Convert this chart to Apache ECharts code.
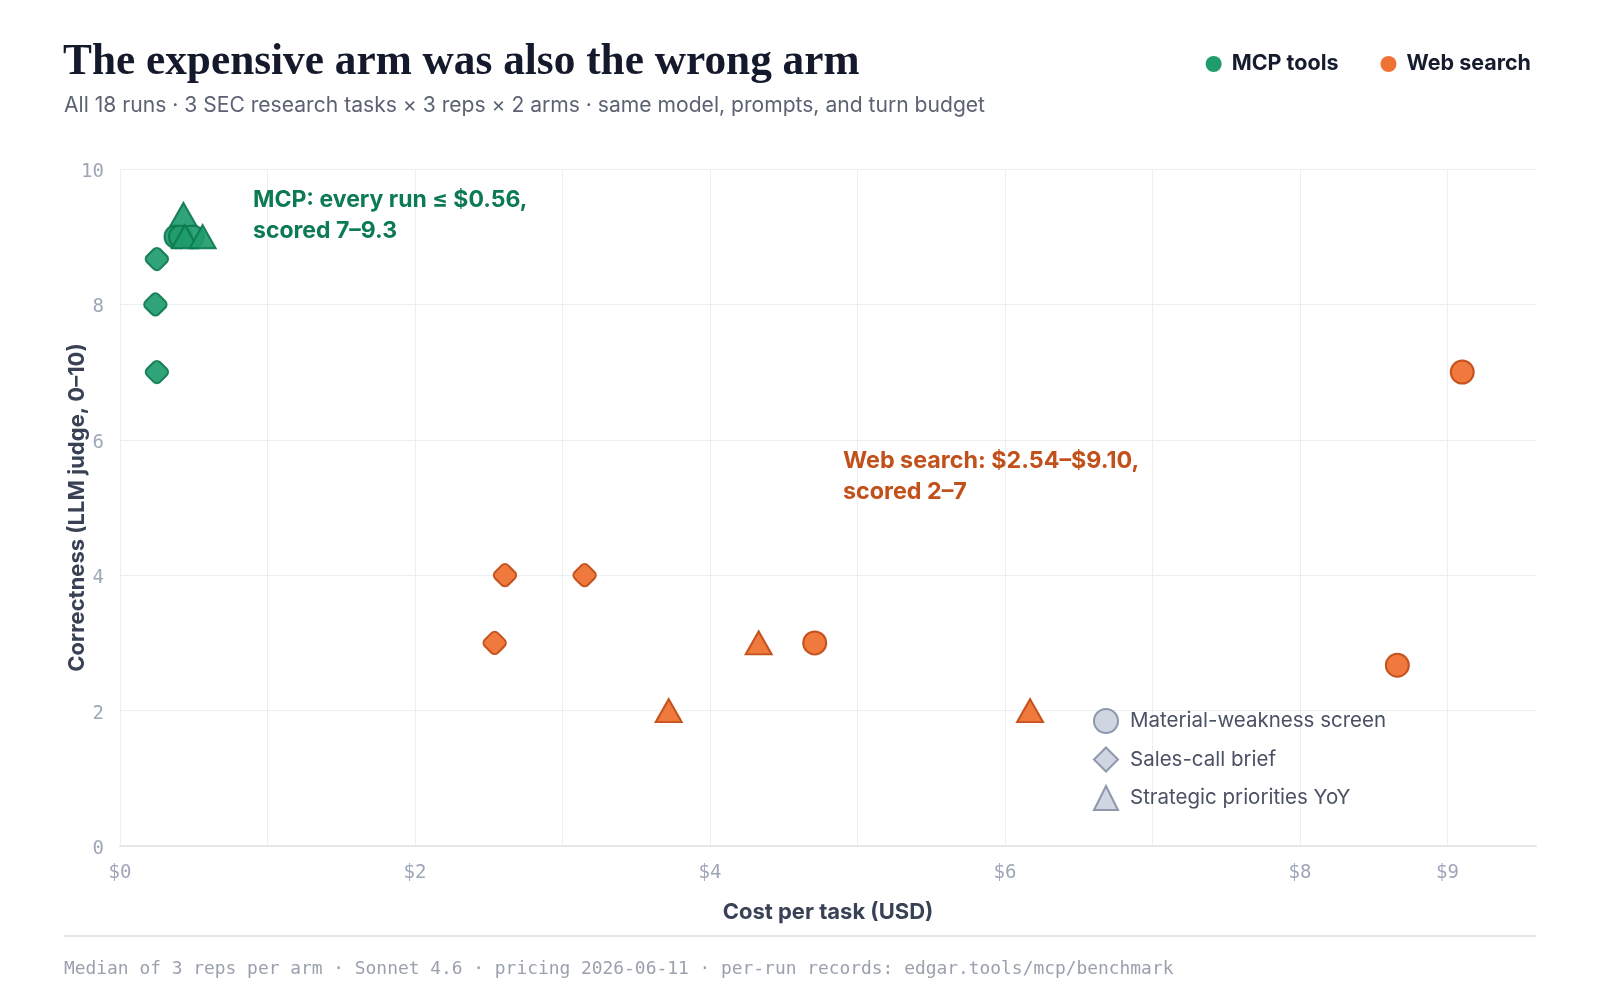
<!DOCTYPE html>
<html>
<head>
<meta charset="utf-8">
<script src="https://cdn.jsdelivr.net/npm/echarts@6/dist/echarts.min.js"></script>
<style>
  html, body { margin: 0; padding: 0; background: #fff; }
  #chart { width: 1600px; height: 1000px; }
</style>
</head>
<body>
<div id="chart"></div>
<script>
// 任务名（形状图例）
const taskNames = ['Material-weakness screen', 'Sales-call brief', 'Strategic priorities YoY']

// MCP tools 每次运行：成本 / 得分 / 任务序号
const mcpCost  = [0.25, 0.24, 0.25, 0.38, 0.41, 0.49, 0.43, 0.44, 0.56]
const mcpScore = [8.67, 8,    7,    9,    9,    9,    9.33, 9,    9]
const mcpTask  = [1,    1,    1,    0,    0,    0,    2,    2,    2]

// Web search 每次运行
const webCost  = [9.10, 8.66, 4.71, 2.61, 3.15, 2.54, 4.33, 3.72, 6.17]
const webScore = [7,    2.67, 3,    4,    4,    3,    3,    2,    2]
const webTask  = [0,    0,    0,    1,    1,    1,    2,    2,    2]

// 坐标轴刻度文字
const xTickValues = [0, 2, 4, 6, 8, 9]
const yTickValues = [0, 2, 4, 6, 8, 10]

const SANS = 'Inter, "Noto Sans", sans-serif'
const MONO = '"DejaVu Sans Mono", "Liberation Mono", monospace'

// 任务 -> 形状
function symbolOf(task){
    switch (task){
        case 0: return {symbol:'circle', symbolSize:23, symbolRotate:0}
        case 1: return {symbol:'roundRect', symbolSize:18.5, symbolRotate:45}
        default: return {symbol:'triangle', symbolSize:[26,23], symbolRotate:0}
    }
}

function buildData(cost, score, task){
    let data = []
    for (let i = 0; i < cost.length; i++){
        data.push(Object.assign({value:[cost[i], score[i]]}, symbolOf(task[i])))
    }
    return data
}

let option = {
    animation: false,
    backgroundColor: '#fff',
    title: [
        {
            text: 'The expensive arm was also the wrong arm',
            left: 63, top: 41, padding: 0,
            textStyle: {fontFamily: '"Liberation Serif", serif', fontWeight: 'bold', fontSize: 43.3, color: '#141a2b'}
        },
        {
            text: 'All 18 runs · 3 SEC research tasks × 3 reps × 2 arms · same model, prompts, and turn budget',
            left: 64, top: 95, padding: 0,
            textStyle: {fontFamily: SANS, fontWeight: 'normal', fontSize: 21.1, color: '#5b6272'}
        }
    ],
    legend: [
        {
            data: ['MCP tools', 'Web search'],
            right: 69, top: 53, padding: 0,
            icon: 'circle',
            itemWidth: 16, itemHeight: 16, itemGap: 42,
            itemStyle: {borderWidth: 0, opacity: 1},
            textStyle: {fontFamily: SANS, fontWeight: 'bold', fontSize: 21.5, color: '#161c2e', padding: [0, 0, 0, 5]},
            selectedMode: false
        },
        {
            data: taskNames,
            orient: 'vertical',
            left: 1093, top: 708, padding: 0,
            itemWidth: 24, itemHeight: 24, itemGap: 12.5,
            itemStyle: {color: '#cfd6e2', borderColor: '#8e97ab', borderWidth: 2, opacity: 1},
            textStyle: {fontFamily: SANS, fontSize: 20.5, color: '#4a5163', padding: [0, 0, 0, 7]},
            selectedMode: false
        }
    ],
    grid: {left: 120, right: 64, top: 169, bottom: 154},
    xAxis: {
        type: 'value',
        min: 0, max: 9.6, interval: 1,
        name: 'Cost per task (USD)',
        nameLocation: 'middle', nameGap: 55, nameMoveOverlap: false,
        nameTextStyle: {fontFamily: SANS, fontWeight: 'bold', fontSize: 22, color: '#394154'},
        axisLine: {show: true, lineStyle: {color: '#e4e6ea', width: 2}},
        axisTick: {show: false},
        axisLabel: {
            margin: 18,
            fontFamily: MONO, fontSize: 19, color: '#9ea6b8',
            formatter: v => xTickValues.includes(v) ? '$' + v : ''
        },
        splitLine: {show: true, showMaxLine: false, lineStyle: {color: '#eceef1', width: 1}}
    },
    yAxis: {
        type: 'value',
        min: 0, max: 10, interval: 2,
        name: 'Correctness (LLM judge, 0–10)',
        nameLocation: 'middle', nameGap: 32, nameMoveOverlap: false,
        nameTextStyle: {fontFamily: SANS, fontWeight: 'bold', fontSize: 22, color: '#394154'},
        axisLine: {show: false},
        axisTick: {show: false},
        axisLabel: {
            margin: 16, verticalAlign: 'top', lineHeight: 6,
            fontFamily: MONO, fontSize: 19, color: '#9ea6b8',
            formatter: v => yTickValues.includes(v) ? String(v) : ''
        },
        splitLine: {show: true, lineStyle: {color: '#eceef1', width: 1}}
    },
    series: [
        {
            name: 'MCP tools',
            type: 'scatter',
            data: buildData(mcpCost, mcpScore, mcpTask),
            itemStyle: {color: '#1f9b6c', borderColor: '#0d7a4f', borderWidth: 2, opacity: 0.92},
            z: 3
        },
        {
            name: 'Web search',
            type: 'scatter',
            data: buildData(webCost, webScore, webTask),
            itemStyle: {color: '#ef7233', borderColor: '#c24d17', borderWidth: 2, opacity: 0.95},
            z: 3
        },
        // 仅用于形状图例的空系列
        {name: taskNames[0], type: 'scatter', data: [], symbol: 'circle'},
        {name: taskNames[1], type: 'scatter', data: [], symbol: 'diamond'},
        {name: taskNames[2], type: 'scatter', data: [], symbol: 'triangle'}
    ],
    graphic: [
        {
            type: 'text', left: 253, top: 185, z: 20,
            style: {
                text: 'MCP: every run ≤ $0.56,\nscored 7–9.3',
                font: 'bold 23px ' + SANS, fill: '#0c7a52', lineHeight: 31
            }
        },
        {
            type: 'text', left: 843, top: 445, z: 20,
            style: {
                text: 'Web search: $2.54–$9.10,\nscored 2–7',
                font: 'bold 23.3px ' + SANS, fill: '#c2501a', lineHeight: 31
            }
        },
        {
            type: 'rect', left: 64, top: 935,
            shape: {width: 1472, height: 2},
            style: {fill: '#e3e5e9'}
        },
        {
            type: 'text', left: 64, top: 960,
            style: {
                text: 'Median of 3 reps per arm · Sonnet 4.6 · pricing 2026-06-11 · per-run records: edgar.tools/mcp/benchmark',
                font: '17.9px ' + MONO, fill: '#9aa0ad'
            }
        }
    ]
}

let chartDom = echarts.init(document.querySelector('#chart'))
chartDom.setOption(option)
</script>
</body>
</html>
